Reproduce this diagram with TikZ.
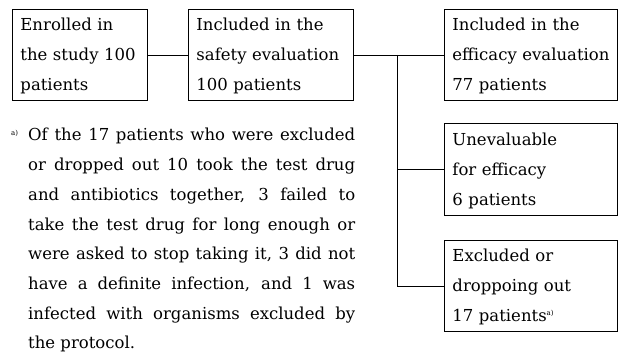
\documentclass[tikz,border=0pt]{standalone}
\usepackage{fontspec}
\setmainfont{DejaVu Serif}
\newcommand{\fnmark}{\raisebox{6pt}{\fontsize{7}{7}\selectfont a)}}
\begin{document}
\begin{tikzpicture}[x=1pt, y=-1pt,
    flowbox/.style={draw, line width=0.9pt, anchor=north west, inner xsep=8pt, inner ysep=0pt,
        minimum height=91pt, align=left, font=\fontsize{16.5}{30}\selectfont,
        execute at begin node=\strut, execute at end node=\strut},
    link/.style={line width=0.8pt},
    footnote/.style={anchor=north west, inner sep=0pt, text width=327pt, align=justify,
        font=\fontsize{16.5}{29.7}\selectfont, execute at begin node=\strut}]
    \useasboundingbox (0,0) rectangle (621,354);

    % Boxes of the flow
    \node[flowbox, text width=119pt] (enrolled) at (12,9) {Enrolled in\\the study 100\\patients};
    \node[flowbox, text width=149pt] (safety) at (188,9) {Included in the\\safety evaluation\\100 patients};
    \node[flowbox, text width=157pt] (efficacy) at (444,9) {Included in the\\\mbox{efficacy evaluation}\\77 patients};
    \node[flowbox, text width=157pt, minimum height=92pt] (uneval) at (444,123) {Unevaluable\\for efficacy\\6 patients};
    \node[flowbox, text width=157pt] (excluded) at (444,240) {Excluded or\\droppoing out\\17 patients\fnmark};

    % Connectors
    \coordinate (split) at (safety.east -| 397,0);
    \draw[link] (enrolled.east) -- (safety.west);
    \draw[link] (safety.east) -- (efficacy.west);
    \draw[link] (split |- uneval.west) -- (uneval.west);
    \draw[link] (split) |- (excluded.west);

    % Footnote
    \node[anchor=south west, inner sep=0pt] (notemark) at (11,137) {\fontsize{7}{7}\selectfont a)};
    \node[footnote] (note) at (28,120) {Of the 17 patients who were excluded\linebreak
        or dropped out 10 took the test drug\linebreak
        and antibiotics together, 3 failed to\linebreak
        take the test drug for long enough or\linebreak
        were asked to stop taking it, 3 did not\linebreak
        have a definite infection, and 1 was\linebreak
        infected with organisms excluded by\linebreak
        the protocol.};
\end{tikzpicture}
\end{document}
